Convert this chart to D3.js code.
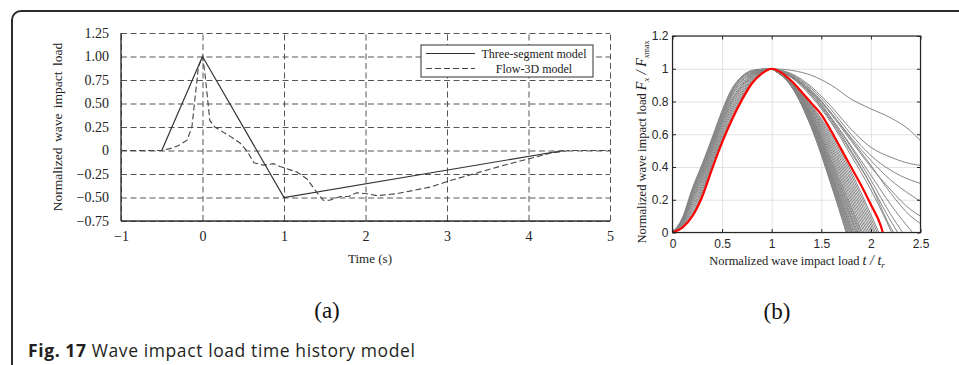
<!DOCTYPE html>
<html>
<head>
<meta charset="utf-8">
<script src="https://cdn.jsdelivr.net/npm/d3@7"></script>
<style>
  body { margin: 0; background: #fff; }
  svg { display: block; }
</style>
</head>
<body>
<svg id="fig" width="959" height="365"></svg>
<script>
// ---- panel (a): time history ----
const aTicksX = [-1, 0, 1, 2, 3, 4, 5];
const aTickLabelsX = ["−1", "0", "1", "2", "3", "4", "5"];
const aTicksY = [-0.75, -0.5, -0.25, 0, 0.25, 0.5, 0.75, 1, 1.25];
const aTickLabelsY = ["−0.75", "−0.50", "−0.25", "0", "0.25", "0.50", "0.75", "1.00", "1.25"];

const threeTime = [-0.5, 0, 1, 4.43];
const threeLoad = [0, 1, -0.5, 0];

const flowTime = [-1, -0.5, -0.4, -0.3, -0.19, -0.13, -0.09, -0.05, 0, 0.03, 0.06, 0.09, 0.15, 0.34, 0.46,
  0.55, 0.63, 0.75, 0.87, 0.95, 1.16, 1.28, 1.38, 1.48, 1.56, 1.69, 1.79, 1.89, 2.01, 2.14, 2.38, 2.79,
  3.04, 3.4, 3.77, 4.02, 4.26, 4.5, 5];
const flowLoad = [0, 0, 0.02, 0.05, 0.11, 0.25, 0.57, 0.89, 1, 0.82, 0.57, 0.32, 0.25, 0.15, 0.08,
  -0.01, -0.13, -0.155, -0.14, -0.17, -0.23, -0.3, -0.42, -0.53, -0.53, -0.49, -0.49, -0.45, -0.46, -0.48, -0.46, -0.39,
  -0.32, -0.23, -0.14, -0.085, -0.03, 0, 0];

// ---- panel (b): normalized pulses ----
const bTicksX = [0, 0.5, 1, 1.5, 2, 2.5];
const bTickLabelsX = ["0", "0.5", "1", "1.5", "2", "2.5"];
const bTicksY = [0, 0.2, 0.4, 0.6, 0.8, 1, 1.2];
const bTickLabelsY = ["0", "0.2", "0.4", "0.6", "0.8", "1", "1.2"];

const redTime = [0, 0.1, 0.2, 0.3, 0.4, 0.5, 0.6, 0.7, 0.8, 0.9, 1.0, 1.1, 1.2, 1.3, 1.4, 1.5, 1.6, 1.7, 1.8, 1.9, 2.0, 2.1, 2.12];
const redLoad = [0, 0.03, 0.1, 0.22, 0.39, 0.55, 0.69, 0.81, 0.91, 0.97, 1, 0.975, 0.925, 0.86, 0.79, 0.72, 0.62, 0.51, 0.4, 0.29, 0.17, 0.04, 0];

// rising branches, sampled at riseTime
const riseTime = [0, 0.1, 0.2, 0.3, 0.4, 0.5, 0.6, 0.7, 0.8, 0.9, 1.0];
const riseLoads = [
  [0, 0.09, 0.27, 0.42, 0.58, 0.745, 0.88, 0.955, 0.99, 0.998, 1],
  [0, 0.088, 0.26, 0.41, 0.57, 0.735, 0.87, 0.95, 0.987, 0.997, 1],
  [0, 0.085, 0.255, 0.405, 0.565, 0.73, 0.865, 0.945, 0.985, 0.996, 1],
  [0, 0.082, 0.25, 0.395, 0.555, 0.72, 0.86, 0.94, 0.98, 0.995, 1],
  [0, 0.08, 0.24, 0.385, 0.548, 0.71, 0.85, 0.93, 0.976, 0.993, 1],
  [0, 0.077, 0.233, 0.376, 0.538, 0.7, 0.84, 0.925, 0.972, 0.992, 1],
  [0, 0.074, 0.224, 0.366, 0.529, 0.69, 0.83, 0.915, 0.968, 0.99, 1],
  [0, 0.07, 0.214, 0.354, 0.517, 0.68, 0.815, 0.905, 0.964, 0.989, 1],
  [0, 0.067, 0.204, 0.342, 0.506, 0.67, 0.805, 0.898, 0.959, 0.987, 1],
  [0, 0.063, 0.194, 0.33, 0.495, 0.657, 0.795, 0.89, 0.954, 0.985, 1],
  [0, 0.059, 0.182, 0.316, 0.481, 0.644, 0.78, 0.88, 0.948, 0.983, 1],
  [0, 0.054, 0.168, 0.3, 0.466, 0.628, 0.766, 0.868, 0.942, 0.981, 1],
  [0, 0.049, 0.154, 0.284, 0.451, 0.612, 0.751, 0.856, 0.936, 0.979, 1],
  [0, 0.044, 0.141, 0.268, 0.436, 0.597, 0.736, 0.845, 0.929, 0.977, 1],
  [0, 0.04, 0.127, 0.252, 0.42, 0.581, 0.72, 0.833, 0.923, 0.974, 1],
  [0, 0.035, 0.114, 0.236, 0.405, 0.566, 0.705, 0.822, 0.916, 0.972, 1]
];

// main falling bundle: load at t = 1.2, 1.4, 1.6 and the time where it reaches 0
const fallTime = [1.2, 1.4, 1.6];
const fallMain = [
  [0.89, 0.64, 0.29, 1.75], [0.891, 0.643, 0.296, 1.757], [0.892, 0.647, 0.306, 1.767],
  [0.892, 0.65, 0.312, 1.773], [0.894, 0.654, 0.321, 1.783], [0.894, 0.657, 0.327, 1.79],
  [0.895, 0.661, 0.337, 1.8], [0.896, 0.665, 0.346, 1.809], [0.897, 0.668, 0.352, 1.816],
  [0.898, 0.672, 0.361, 1.826], [0.899, 0.676, 0.371, 1.836], [0.901, 0.682, 0.383, 1.849],
  [0.902, 0.686, 0.392, 1.859], [0.903, 0.69, 0.402, 1.869], [0.904, 0.696, 0.414, 1.882],
  [0.905, 0.7, 0.423, 1.892], [0.906, 0.706, 0.436, 1.905], [0.908, 0.71, 0.445, 1.915],
  [0.909, 0.717, 0.461, 1.932], [0.911, 0.724, 0.476, 1.948], [0.913, 0.731, 0.492, 1.965],
  [0.915, 0.738, 0.507, 1.981], [0.916, 0.745, 0.523, 1.998], [0.918, 0.752, 0.538, 2.014],
  [0.92, 0.759, 0.554, 2.031], [0.922, 0.766, 0.569, 2.047], [0.923, 0.773, 0.585, 2.064],
  [0.925, 0.78, 0.6, 2.08]
];

// slower decays, as [t, load] pairs
const fallSlow = [
  [[1, 1], [1.2, 0.99], [1.4, 0.96], [1.6, 0.9], [1.8, 0.815], [2.0, 0.755], [2.2, 0.7], [2.4, 0.62], [2.5, 0.56]],
  [[1, 1], [1.2, 0.97], [1.4, 0.89], [1.6, 0.77], [1.8, 0.63], [2.0, 0.52], [2.2, 0.46], [2.4, 0.42], [2.5, 0.41]],
  [[1, 1], [1.2, 0.965], [1.4, 0.88], [1.6, 0.75], [1.8, 0.6], [2.0, 0.47], [2.2, 0.38], [2.4, 0.32], [2.5, 0.3]],
  [[1, 1], [1.2, 0.96], [1.4, 0.87], [1.6, 0.73], [1.8, 0.58], [2.0, 0.44], [2.2, 0.32], [2.4, 0.23], [2.5, 0.19]],
  [[1, 1], [1.2, 0.955], [1.4, 0.86], [1.6, 0.72], [1.8, 0.56], [2.0, 0.4], [2.2, 0.26], [2.4, 0.14], [2.5, 0.1]],
  [[1, 1], [1.2, 0.955], [1.4, 0.86], [1.6, 0.73], [1.8, 0.57], [2.0, 0.41], [2.2, 0.24], [2.4, 0.1], [2.5, 0.055]],
  [[1, 1], [1.2, 0.95], [1.4, 0.85], [1.6, 0.7], [1.8, 0.53], [2.0, 0.35], [2.2, 0.17], [2.42, 0]],
  [[1, 1], [1.2, 0.955], [1.4, 0.855], [1.6, 0.7], [1.8, 0.52], [2.0, 0.32], [2.2, 0.11], [2.32, 0]],
  [[1, 1], [1.2, 0.95], [1.4, 0.84], [1.6, 0.68], [1.8, 0.49], [2.0, 0.29], [2.2, 0.07], [2.27, 0]],
  [[1, 1], [1.2, 0.95], [1.4, 0.84], [1.6, 0.69], [1.8, 0.5], [2.0, 0.29], [2.2, 0.03], [2.23, 0]],
  [[1, 1], [1.2, 0.945], [1.4, 0.83], [1.6, 0.67], [1.8, 0.47], [2.0, 0.26], [2.21, 0]]
];

const svg = d3.select("#fig");
const serif = "'Liberation Serif', 'Times New Roman', serif";
const sans = "'Liberation Sans', Arial, sans-serif";

// figure frame (only top/left edges show)
svg.append("rect")
    .attr("x", 12).attr("y", 11).attr("width", 1000).attr("height", 420).attr("rx", 9)
    .attr("fill", "none").attr("stroke", "#2b2b2b").attr("stroke-width", 2);

// ================= panel (a) =================
const xA = d3.scaleLinear().domain([-1, 5]).range([121, 610]);
const yA = d3.scaleLinear().domain([-0.75, 1.25]).range([221, 33]);
const gA = svg.append("g");

// dashed grid
gA.append("g").attr("transform", "translate(0,221)")
    .call(d3.axisBottom(xA).tickValues(aTicksX).tickSize(-(221 - 33)).tickFormat(""))
    .call(g => g.select(".domain").remove())
    .call(g => g.selectAll("line").attr("stroke", "#555").attr("stroke-dasharray", "6,3.5"));
gA.append("g").attr("transform", "translate(121,0)")
    .call(d3.axisLeft(yA).tickValues(aTicksY).tickSize(-(610 - 121)).tickFormat(""))
    .call(g => g.select(".domain").remove())
    .call(g => g.selectAll("line").attr("stroke", "#555").attr("stroke-dasharray", "6,3.5"));

// tick labels
gA.append("g").attr("transform", "translate(0,221)")
    .call(d3.axisBottom(xA).tickValues(aTicksX).tickSize(0).tickPadding(10)
        .tickFormat((d, i) => aTickLabelsX[i]))
    .call(g => g.select(".domain").remove())
    .call(g => g.selectAll("text").attr("font-family", serif).attr("font-size", 14).attr("fill", "#222"));
gA.append("g").attr("transform", "translate(121,0)")
    .call(d3.axisLeft(yA).tickValues(aTicksY).tickSize(0).tickPadding(12)
        .tickFormat((d, i) => aTickLabelsY[i]))
    .call(g => g.select(".domain").remove())
    .call(g => g.selectAll("text").attr("font-family", serif).attr("font-size", 14).attr("fill", "#222"));

// solid left and bottom axis lines
gA.append("line").attr("x1", 121).attr("x2", 121).attr("y1", 33).attr("y2", 221)
    .attr("stroke", "#333").attr("stroke-width", 1.4);
gA.append("line").attr("x1", 121).attr("x2", 610).attr("y1", 221).attr("y2", 221)
    .attr("stroke", "#333").attr("stroke-width", 1.4);

const lineA = d3.line().x(d => xA(d[0])).y(d => yA(d[1]));
gA.append("path").datum(flowTime.map((t, i) => [t, flowLoad[i]]))
    .attr("d", lineA).attr("fill", "none").attr("stroke", "#444")
    .attr("stroke-width", 1.1).attr("stroke-dasharray", "6,3");
gA.append("path").datum(threeTime.map((t, i) => [t, threeLoad[i]]))
    .attr("d", lineA).attr("fill", "none").attr("stroke", "#333").attr("stroke-width", 1.2);

// legend
const leg = gA.append("g");
leg.append("rect").attr("x", 421).attr("y", 45).attr("width", 172).attr("height", 32)
    .attr("fill", "#fff").attr("stroke", "#333").attr("stroke-width", 1);
leg.append("line").attr("x1", 426).attr("x2", 475).attr("y1", 53.5).attr("y2", 53.5)
    .attr("stroke", "#333").attr("stroke-width", 1.1);
leg.append("line").attr("x1", 426).attr("x2", 475).attr("y1", 68.5).attr("y2", 68.5)
    .attr("stroke", "#444").attr("stroke-width", 1.1).attr("stroke-dasharray", "6,3");
leg.append("text").attr("x", 534).attr("y", 57.5).attr("text-anchor", "middle")
    .attr("font-family", serif).attr("font-size", 12).attr("fill", "#222").text("Three-segment model");
leg.append("text").attr("x", 534).attr("y", 72.5).attr("text-anchor", "middle")
    .attr("font-family", serif).attr("font-size", 12).attr("fill", "#222").text("Flow-3D model");

// axis titles
gA.append("text").attr("x", 370).attr("y", 263).attr("text-anchor", "middle")
    .attr("font-family", serif).attr("font-size", 13).attr("fill", "#222").text("Time (s)");
gA.append("text").attr("transform", "translate(62,127) rotate(-90)").attr("text-anchor", "middle")
    .attr("font-family", serif).attr("font-size", 13.5).attr("word-spacing", 2).attr("fill", "#222")
    .text("Normalized wave impact load");

svg.append("text").attr("x", 327).attr("y", 318).attr("text-anchor", "middle")
    .attr("font-family", serif).attr("font-size", 23).attr("fill", "#111").text("(a)");

// ================= panel (b) =================
const xB = d3.scaleLinear().domain([0, 2.5]).range([672.5, 920.5]);
const yB = d3.scaleLinear().domain([0, 1.2]).range([232.5, 36]);
const gB = svg.append("g");

gB.append("g").attr("transform", "translate(0,232.5)")
    .call(d3.axisBottom(xB).tickValues(bTicksX).tickSize(-(232.5 - 36)).tickFormat(""))
    .call(g => g.select(".domain").remove())
    .call(g => g.selectAll("line").attr("stroke", "#e3e3e3"));
gB.append("g").attr("transform", "translate(672.5,0)")
    .call(d3.axisLeft(yB).tickValues(bTicksY).tickSize(-(920.5 - 672.5)).tickFormat(""))
    .call(g => g.select(".domain").remove())
    .call(g => g.selectAll("line").attr("stroke", "#e3e3e3"));

const lineB = d3.line().x(d => xB(d[0])).y(d => yB(d[1])).curve(d3.curveMonotoneX);
const grey = "#858585";

gB.append("g").selectAll("path").data(riseLoads).join("path")
    .attr("d", row => lineB(riseTime.map((t, i) => [t, row[i]])))
    .attr("fill", "none").attr("stroke", grey).attr("stroke-width", 1);
gB.append("g").selectAll("path").data(fallMain).join("path")
    .attr("d", row => lineB([[1, 1], [fallTime[0], row[0]], [fallTime[1], row[1]], [fallTime[2], row[2]], [row[3], 0]]))
    .attr("fill", "none").attr("stroke", grey).attr("stroke-width", 1);
gB.append("g").selectAll("path").data(fallSlow).join("path")
    .attr("d", lineB)
    .attr("fill", "none").attr("stroke", grey).attr("stroke-width", 1);

gB.append("path").datum(redTime.map((t, i) => [t, redLoad[i]]))
    .attr("d", lineB).attr("fill", "none").attr("stroke", "#ff0000").attr("stroke-width", 2.2);

// box and inward ticks
const tickCol = "#262626";
gB.append("rect").attr("x", 672.5).attr("y", 36).attr("width", 248).attr("height", 196.5)
    .attr("fill", "none").attr("stroke", tickCol).attr("stroke-width", 1.2);
gB.append("g").attr("transform", "translate(0,232.5)")
    .call(d3.axisBottom(xB).tickValues(bTicksX).tickSizeInner(-3.5).tickSizeOuter(0).tickPadding(7)
        .tickFormat((d, i) => bTickLabelsX[i]))
    .call(g => g.select(".domain").remove())
    .call(g => g.selectAll("line").attr("stroke", tickCol))
    .call(g => g.selectAll("text").attr("font-family", sans).attr("font-size", 12).attr("fill", tickCol));
gB.append("g").attr("transform", "translate(672.5,0)")
    .call(d3.axisLeft(yB).tickValues(bTicksY).tickSizeInner(-3.5).tickSizeOuter(0).tickPadding(4)
        .tickFormat((d, i) => bTickLabelsY[i]))
    .call(g => g.select(".domain").remove())
    .call(g => g.selectAll("line").attr("stroke", tickCol))
    .call(g => g.selectAll("text").attr("font-family", sans).attr("font-size", 12).attr("fill", tickCol));
gB.append("g").attr("transform", "translate(0,36)")
    .call(d3.axisTop(xB).tickValues(bTicksX).tickSizeInner(-3.5).tickSizeOuter(0).tickFormat(""))
    .call(g => g.select(".domain").remove())
    .call(g => g.selectAll("line").attr("stroke", tickCol));
gB.append("g").attr("transform", "translate(920.5,0)")
    .call(d3.axisRight(yB).tickValues(bTicksY).tickSizeInner(-3.5).tickSizeOuter(0).tickFormat(""))
    .call(g => g.select(".domain").remove())
    .call(g => g.selectAll("line").attr("stroke", tickCol));

// axis titles
const xt = gB.append("text").attr("x", 797).attr("y", 265).attr("text-anchor", "middle")
    .attr("font-family", serif).attr("font-size", 12.5).attr("fill", "#222");
xt.append("tspan").text("Normalized wave impact load ");
xt.append("tspan").attr("font-style", "italic").attr("font-size", 14).text("t / t");
xt.append("tspan").attr("font-style", "italic").attr("font-size", 9).attr("dy", 3).text("r");

const yt = gB.append("text").attr("transform", "translate(646,142) rotate(-90)").attr("text-anchor", "middle")
    .attr("font-family", serif).attr("font-size", 12.5).attr("fill", "#222");
yt.append("tspan").text("Normalized wave impact load ");
yt.append("tspan").attr("font-style", "italic").attr("font-size", 14).text("F");
yt.append("tspan").attr("font-style", "italic").attr("font-size", 9).attr("dy", 3).text("x");
yt.append("tspan").attr("font-style", "italic").attr("font-size", 14).attr("dy", -3).text(" / F");
yt.append("tspan").attr("font-style", "italic").attr("font-size", 9).attr("dy", 3).text("x");
yt.append("tspan").attr("font-size", 8).text("max");

svg.append("text").attr("x", 777).attr("y", 319).attr("text-anchor", "middle")
    .attr("font-family", serif).attr("font-size", 23).attr("fill", "#111").text("(b)");

// caption
const cap = svg.append("text").attr("x", 28).attr("y", 357)
    .attr("font-family", "'Open Sans', 'Noto Sans', sans-serif").attr("font-size", 17.5)
    .attr("letter-spacing", 0.6).attr("fill", "#231f20");
cap.append("tspan").attr("font-weight", "bold").text("Fig. 17");
cap.append("tspan").text(" Wave impact load time history model");
</script>
</body>
</html>
